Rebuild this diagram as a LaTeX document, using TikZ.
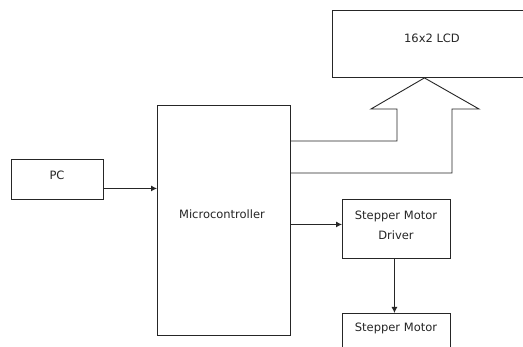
\documentclass[tikz,border=0pt]{standalone}
\usepackage{fontspec}
\setmainfont{DejaVu Sans}
\usetikzlibrary{arrows.meta}
\begin{document}
\begin{tikzpicture}[x=1pt,y=-1pt,
  box/.style={draw=black!85, line width=0.9pt, rectangle, inner sep=0pt, anchor=north west},
  lbl/.style={font=\fontsize{11.5}{14}\selectfont, text=black!85, inner sep=0pt},
  conn/.style={draw=black!85, line width=0.9pt},
  arr/.style={conn, -{Latex[length=6pt,width=6pt]}}]
\useasboundingbox (0,0) rectangle (523,347);
\clip (0,0) rectangle (523,347);
\fill[white] (0,0) rectangle (523,347);

\node[box, minimum width=200pt, minimum height=67pt] (lcd) at (332,10) {};
\node[lbl] (lcdt) at (432,38) {16x2 LCD};

\node[box, minimum width=92pt, minimum height=40pt] (pc) at (11,159) {};
\node[lbl] (pct) at (57,175) {PC};

\node[box, minimum width=133pt, minimum height=230pt] (mc) at (157,105) {};
\node[lbl] (mct) at (222,214) {Microcontroller};

\node[box, minimum width=108pt, minimum height=59pt] (drv) at (342,199) {};
\node[lbl, align=center] (drvt) at (396,225) {Stepper Motor\\[6pt]Driver};

\node[box, minimum width=108pt, minimum height=60pt] (sm) at (342,313) {};
\node[lbl] (smt) at (396,328) {Stepper Motor};

\coordinate (pcout) at ([yshift=-9pt]pc.east);
\draw[arr] (pcout) -- (pcout -| mc.west);

\coordinate (din) at ([yshift=4.5pt]drv.west);
\draw[arr] (mc.east |- din) -- (din);

\coordinate (dout) at ([xshift=-2pt]drv.south);
\draw[arr] (dout) -- (dout |- sm.north);

\coordinate (tip) at ([xshift=-8pt]lcd.south);
\draw[conn, line join=miter] (mc.east |- 0,141) -- (397,141) -- (397,109) -- (371,109)
  -- (tip) -- (479,109) -- (452,109) -- (452,173) -- (mc.east |- 0,173);
\end{tikzpicture}
\end{document}
